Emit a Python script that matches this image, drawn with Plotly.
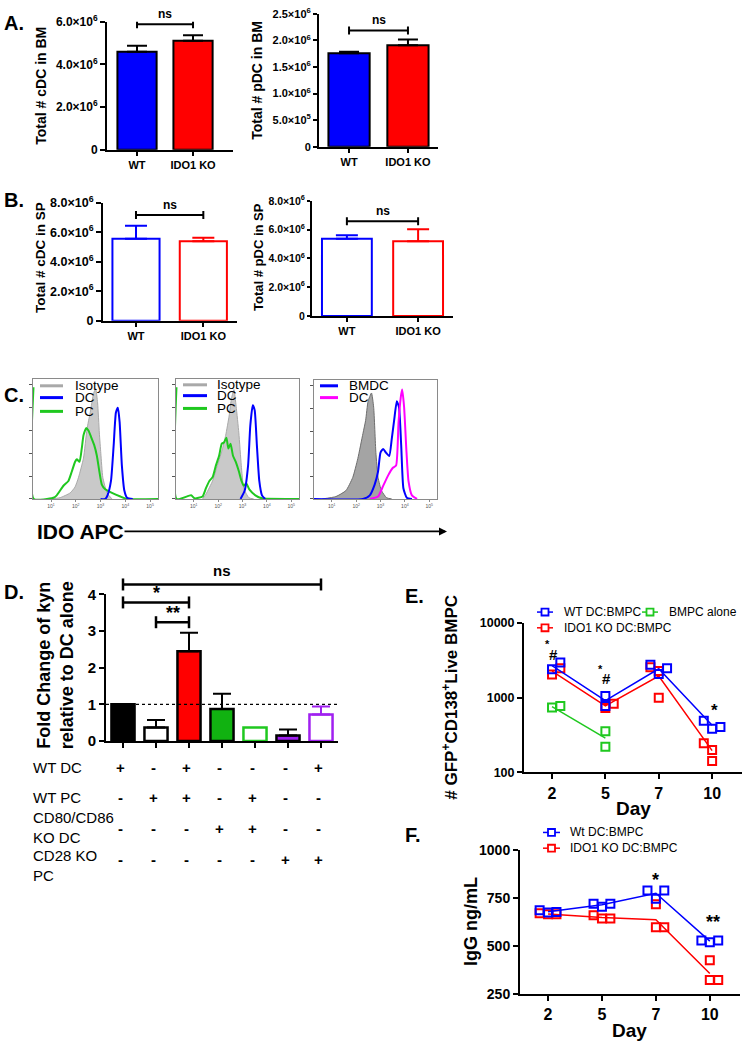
import numpy as np
import plotly.graph_objects as go

W, H = 742, 1050
FONT = "Arial, 'Liberation Sans', sans-serif"

# ---------------- DATA ----------------
# Panels A / B : totals of dendritic cells
groups = ["WT", "IDO1 KO"]
a_cdc_mean = [4.60e6, 5.11e6]
a_cdc_sem = [0.28e6, 0.26e6]
a_pdc_mean = [1.76e6, 1.91e6]
a_pdc_sem = [0.03e6, 0.11e6]
b_cdc_mean = [5.56e6, 5.40e6]
b_cdc_sem = [0.89e6, 0.23e6]
b_pdc_mean = [5.37e6, 5.19e6]
b_pdc_sem = [0.23e6, 0.84e6]
a_cdc_ticks = [0, 2e6, 4e6, 6e6]
a_pdc_ticks = [0, 5e5, 1e6, 1.5e6, 2e6, 2.5e6]
b_ticks = [0, 2e6, 4e6, 6e6, 8e6]
a_cdc_bracket = 5.88e6
a_pdc_bracket = 2.19e6
b_cdc_bracket = 7.18e6
b_pdc_bracket = 6.58e6

# Panel C : IDO APC histograms (log10 fluorescence, % of max)
c1_iso_x = [0.96, 1.36, 1.77, 1.97, 2.11, 2.31, 2.45, 2.58, 2.72, 2.80, 2.88, 2.95, 3.01, 3.09, 3.26, 3.46]
c1_iso_y = [0, 1, 5, 10, 18, 34, 58, 72, 88, 92, 80, 55, 38, 18, 5, 0]
c1_pc_x = [0.29, 0.30, 1.09, 1.23, 1.50, 1.70, 1.84, 1.97, 2.04, 2.15, 2.24, 2.31, 2.42, 2.51, 2.61, 2.74,
           2.85, 2.95, 3.05, 3.19, 3.46, 3.80, 4.07, 5.32]
c1_pc_y = [93, 0, 1, 3, 11, 15, 23, 31, 33, 31, 42, 53, 59, 57, 52, 45, 36, 23, 12, 8, 5, 2, 0, 0]
c1_dc_x = [3.00, 3.19, 3.28, 3.42, 3.53, 3.62, 3.70, 3.77, 3.86, 3.96, 4.07, 4.30]
c1_dc_y = [0, 0, 3, 15, 45, 72, 76, 64, 28, 7, 1, 0]

c2_iso_x = [1.36, 1.50, 1.77, 1.97, 2.18, 2.31, 2.45, 2.55, 2.65, 2.74, 2.85, 2.95, 3.05, 3.26, 3.46]
c2_iso_y = [0, 4, 15, 28, 42, 53, 69, 84, 91, 77, 55, 28, 9, 1, 0]
c2_pc_x = [0.29, 0.30, 0.89, 1.03, 1.36, 1.50, 1.64, 1.77, 1.91, 2.04, 2.15, 2.24, 2.34, 2.42, 2.51, 2.61,
           2.72, 2.85, 2.96, 3.05, 3.15, 3.28, 3.53, 3.80, 5.32]
c2_pc_y = [93, 0, 3, 0.5, 2, 9, 15, 18, 28, 36, 46, 47, 51, 42, 46, 36, 31, 23, 15, 11, 13, 8, 3, 0.5, 0]
c2_dc_x = [2.92, 3.09, 3.23, 3.32, 3.42, 3.50, 3.59, 3.69, 3.80, 3.93]
c2_dc_y = [0, 7, 28, 61, 78, 74, 45, 15, 3, 0]

c3_iso_x = [0.61, 1.17, 1.58, 1.86, 2.07, 2.28, 2.39, 2.49, 2.63, 2.72, 2.81, 2.90, 3.04, 3.25, 3.46]
c3_iso_y = [0, 2, 7, 18, 34, 55, 66, 82, 89, 77, 39, 18, 7, 1, 0]
c3_bmdc_x = [0.27, 2.28, 2.56, 2.76, 2.90, 3.00, 3.11, 3.22, 3.36, 3.46, 3.56, 3.67, 3.76, 3.85, 3.94, 4.08, 4.29]
c3_bmdc_y = [0, 0, 3, 12, 23, 39, 42, 39, 36, 50, 66, 82, 77, 45, 9, 1, 0]
c3_dc_x = [2.56, 2.90, 3.11, 3.32, 3.50, 3.64, 3.74, 3.83, 3.89, 3.97, 4.06, 4.15, 4.29, 4.50]
c3_dc_y = [0, 2, 11, 20, 26, 28, 64, 85, 92, 77, 42, 15, 3, 0]
c_ticks = [1, 2, 3, 4, 5]

# Panel D : kynurenine fold change
d_mean = [1.00, 0.37, 2.45, 0.87, 0.37, 0.15, 0.72]
d_err = [0, 0.20, 0.50, 0.42, 0, 0.16, 0.22]
d_ref = 1.0
d_ticks = [0, 1, 2, 3, 4]
d_compare = [(0, 6, "ns", 4.27), (0, 2, "*", 3.78), (1, 2, "**", 3.24)]
d_rows = ["WT DC", "WT PC", "CD80/CD86<br>KO DC", "CD28 KO<br>PC"]
d_signs = [["+", "-", "+", "-", "-", "-", "+"],
           ["-", "+", "+", "-", "+", "-", "-"],
           ["-", "-", "-", "+", "+", "-", "-"],
           ["-", "-", "-", "-", "-", "+", "+"]]

# Panel E : GFP+CD138+ live BMPC counts
e_days = ["2", "5", "7", "10"]
e_wt_day = [0, 0, 1, 1, 2, 2, 2, 3, 3, 3]
e_wt_rep = [0, 1, 0, 0, -1, 0, 1, -1, 0, 1]
e_wt_val = [2400, 2950, 1050, 775, 2750, 2080, 2470, 490, 385, 405]
e_ko_day = [0, 0, 1, 1, 2, 2, 2, 3, 3, 3]
e_ko_rep = [0, 1, 0, 1, -1, 0, 0, -1, 0, 0]
e_ko_val = [2040, 2480, 725, 830, 2560, 2280, 1000, 246, 200, 142]
e_bm_day = [0, 0, 1, 1]
e_bm_rep = [0, 1, 0, 0]
e_bm_val = [740, 775, 355, 220]
e_ticks = [100, 1000, 10000]
e_sig_text = ["*", "#", "*", "#", "*"]
e_sig_x = [-0.08, 0.02, 0.90, 1.03, 3.04]
e_sig_y = [5250, 3800, 2400, 1780, 675]
e_sig_size = [11, 15, 11, 15, 17]

# Panel F : IgG
f_wt_day = [0, 0, 0, 1, 1, 1, 2, 2, 2, 3, 3, 3]
f_wt_rep = [-1, 0, 1, -1, 0, 1, -1, 0, 1, -1, 0, 1]
f_wt_val = [686, 674, 677, 720, 705, 720, 789, 746, 789, 528, 519, 528]
f_ko_day = [0, 0, 0, 1, 1, 1, 2, 2, 2, 3, 3, 3]
f_ko_rep = [-1, 0, 1, -1, 0, 1, 0, 0, 1, 0, 0, 1]
f_ko_val = [670, 665, 665, 660, 643, 643, 717, 597, 597, 425, 322, 322]
f_ticks = [250, 500, 750, 1000]
f_sig_text = ["*", "**"]
f_sig_x = [2.0, 3.05]
f_sig_y = [846, 625]

# ---------------- HELPERS ----------------
BLUE, RED, GREEN, MAG, PURP = "#0000ff", "#ff0000", "#1fc81f", "#ff00ff", "#a020f0"
REP_W = 0.156


def xd(x0, x1):
    return [x0 / W, x1 / W]


def yd(top, bot):
    return [1 - bot / H, 1 - top / H]


def px(x):
    return x / W


def py(y):
    return 1 - y / H


def sci(v):
    if v == 0:
        return "0"
    e = int(np.floor(np.log10(v)))
    return f"{v / 10 ** e:.1f}×10<sup>{e}</sup>"


def bfont(size, color="black", bold=True):
    return dict(family=FONT, size=size, color=color, weight="bold" if bold else "normal")


def gp_axis(**kw):
    d = dict(showline=True, linecolor="black", linewidth=2, ticks="outside", tickwidth=2,
             ticklen=5, tickcolor="black", showgrid=False, zeroline=False,
             tickfont=bfont(11), fixedrange=True)
    d.update(kw)
    return d


fig = go.Figure()
layout = dict(width=W, height=H, margin=dict(l=0, r=0, t=0, b=0), paper_bgcolor="white",
              plot_bgcolor="rgba(0,0,0,0)", barmode="overlay", showlegend=False,
              font=dict(family=FONT, color="black"))
shapes, annotations = [], []


def ax_names(n):
    s = "" if n == 1 else str(n)
    return "x" + s, "y" + s, "xaxis" + s, "yaxis" + s


def bar_panel(n, dom_x, dom_y, means, sems, fills, outlines, errc, xr, yr, ticks, fs_y,
              bracket, capw, tlen=5):
    xn, yn, xk, yk = ax_names(n)
    for i in range(len(groups)):
        fig.add_trace(go.Bar(
            x=[i], y=[means[i]], width=0.7, xaxis=xn, yaxis=yn, showlegend=False,
            marker=dict(color=fills[i], line=dict(color=outlines[i], width=2)),
            error_y=dict(type="data", array=[sems[i]], arrayminus=[0], symmetric=False,
                         color=errc[i], thickness=2, width=capw)))
    layout[xk] = gp_axis(domain=dom_x, range=xr, anchor=yn, tickvals=[0, 1], ticktext=groups,
                         ticklen=4)
    layout[yk] = gp_axis(domain=dom_y, range=yr, anchor=xn, tickvals=ticks, ticklen=tlen,
                         ticktext=[sci(t) for t in ticks], tickfont=bfont(fs_y))
    shapes.append(dict(type="line", xref=xn, yref=yn, x0=0, x1=1, y0=bracket, y1=bracket,
                       line=dict(color="black", width=2)))
    for xe in (0, 1):
        shapes.append(dict(type="line", xref=xn, yref=yn, x0=xe, x1=xe, ysizemode="pixel",
                           yanchor=bracket, y0=-4, y1=4, line=dict(color="black", width=2)))
    annotations.append(dict(xref=xn, yref=yn, x=0.5, y=bracket, yanchor="bottom", yshift=1,
                            text="ns", showarrow=False, font=bfont(12)))


# ---------------- PANEL A ----------------
bar_panel(1, xd(107, 233), yd(13, 143), a_cdc_mean, a_cdc_sem, [BLUE, RED], ["black", "black"],
          ["black", "black"], [-0.536, 1.714], [0, 6e6], a_cdc_ticks, 12, a_cdc_bracket, 10)
bar_panel(2, xd(319, 438), yd(5, 140), a_pdc_mean, a_pdc_sem, [BLUE, RED], ["black", "black"],
          ["black", "black"], [-0.51, 1.51], [0, 2.5e6], a_pdc_ticks, 11, a_pdc_bracket, 10, 4)
# ---------------- PANEL B ----------------
bar_panel(3, xd(103, 237), yd(197, 317), b_cdc_mean, b_cdc_sem, ["white", "white"], [BLUE, RED],
          [BLUE, RED], [-0.49, 1.5], [0, 8e6], b_ticks, 12.5, b_cdc_bracket, 11)
bar_panel(4, xd(312, 453), yd(195, 312), b_pdc_mean, b_pdc_sem, ["white", "white"], [BLUE, RED],
          [BLUE, RED], [-0.49, 1.49], [0, 8e6], b_ticks, 10.5, b_pdc_bracket, 11, 3)

# ---------------- PANEL C ----------------
c_boxes = [(5, xd(33, 158), yd(376, 498)), (6, xd(176, 299), yd(376, 498)), (7, xd(314, 437), yd(377, 498))]
c_curves = {
    5: [(c1_iso_x, c1_iso_y, "#a9a9a9", "#c9c9c9"), (c1_pc_x, c1_pc_y, GREEN, None), (c1_dc_x, c1_dc_y, BLUE, None)],
    6: [(c2_iso_x, c2_iso_y, "#a9a9a9", "#c9c9c9"), (c2_pc_x, c2_pc_y, GREEN, None), (c2_dc_x, c2_dc_y, BLUE, None)],
    7: [(c3_iso_x, c3_iso_y, "#6e6e6e", "#a4a4a4"), (c3_bmdc_x, c3_bmdc_y, BLUE, None), (c3_dc_x, c3_dc_y, MAG, None)],
}
for n, dx, dy in c_boxes:
    xn, yn, xk, yk = ax_names(n)
    for xs, ys, col, fill in c_curves[n]:
        kw = dict(x=xs, y=ys, xaxis=xn, yaxis=yn, mode="lines", showlegend=False, hoverinfo="skip",
                  line=dict(color=col, width=1 if fill else 2, shape="spline", smoothing=0.5))
        if fill:
            kw.update(fill="tozeroy", fillcolor=fill)
        fig.add_trace(go.Scatter(**kw))
    layout[xk] = dict(domain=dx, range=[0.27, 5.32], anchor=yn, showline=True, mirror=True,
                      linecolor="#8a8a8a", linewidth=1, ticks="outside", ticklen=2, tickcolor="#8a8a8a",
                      tickvals=c_ticks, ticktext=[f"10<sup>{t}</sup>" for t in c_ticks],
                      tickfont=dict(family=FONT, size=5, color="#555"), showgrid=False, zeroline=False,
                      fixedrange=True)
    layout[yk] = dict(domain=dy, range=[0, 100], anchor=xn, showline=True, mirror=True,
                      linecolor="#8a8a8a", linewidth=1, ticks="outside", ticklen=3, tickcolor="#555",
                      tickvals=[0, 19, 38, 57, 76, 95], showticklabels=False, showgrid=False,
                      zeroline=False, fixedrange=True)

c_legends = [
    (40, 63, 73, [(383, "Isotype", "#a9a9a9"), (395, "DC", BLUE), (409, "PC", GREEN)]),
    (183, 207, 215, [(382, "Isotype", "#a9a9a9"), (393, "DC", BLUE), (406, "PC", GREEN)]),
    (320, 338, 347, [(383, "BMDC", BLUE), (395, "DC", MAG)]),
]
for lx0, lx1, tx, items in c_legends:
    for yy, label, col in items:
        shapes.append(dict(type="line", xref="paper", yref="paper", x0=px(lx0), x1=px(lx1),
                           y0=py(yy), y1=py(yy), line=dict(color=col, width=3)))
        annotations.append(dict(xref="paper", yref="paper", x=px(tx), y=py(yy), xanchor="left",
                                yanchor="middle", text=label, showarrow=False,
                                font=dict(family=FONT, size=13.5, color="black")))

annotations.append(dict(xref="paper", yref="paper", x=px(35), y=py(531), xanchor="left",
                        yanchor="middle", text="IDO APC", showarrow=False, font=bfont(21)))
annotations.append(dict(xref="paper", yref="paper", x=px(447), y=py(531), text="", showarrow=True,
                        axref="pixel", ayref="pixel", ax=-324, ay=0, arrowhead=2, arrowsize=1,
                        arrowwidth=1.6, arrowcolor="black"))

# ---------------- PANEL D ----------------
d_fill = ["black", "white", RED, "#11b211", "white", PURP, "white"]
d_line = ["black", "black", "black", "black", GREEN, "black", PURP]
d_errc = ["black", "black", "black", "black", "black", "black", PURP]
for i, v in enumerate(d_mean):
    fig.add_trace(go.Bar(
        x=[i], y=[v], width=0.7, xaxis="x8", yaxis="y8", showlegend=False,
        marker=dict(color=d_fill[i], line=dict(color=d_line[i], width=2.5)),
        error_y=dict(type="data", array=[d_err[i]], arrayminus=[0], symmetric=False,
                     color=d_errc[i], thickness=2, width=9, visible=d_err[i] > 0)))
D_YMAX = 4
D_DOM = yd(595, 744)
layout["xaxis8"] = gp_axis(domain=xd(106, 338), range=[-0.515, 6.515], anchor="y8",
                           tickvals=list(range(len(d_mean))), showticklabels=False, ticklen=5)
layout["yaxis8"] = gp_axis(domain=D_DOM, range=[0, D_YMAX], anchor="x8", tickvals=d_ticks,
                           tickfont=bfont(15))
shapes.append(dict(type="line", xref="x8 domain", yref="y8", x0=0, x1=1, y0=d_ref, y1=d_ref,
                   line=dict(color="black", width=1.3, dash="dot")))
for a, b, lab, lvl in d_compare:
    yf = D_DOM[0] + lvl / D_YMAX * (D_DOM[1] - D_DOM[0])
    shapes.append(dict(type="line", xref="x8", yref="paper", x0=a, x1=b, y0=yf, y1=yf,
                       line=dict(color="black", width=2.5)))
    for xe in (a, b):
        shapes.append(dict(type="line", xref="x8", yref="paper", x0=xe, x1=xe,
                           ysizemode="pixel", yanchor=yf, y0=-6, y1=6,
                           line=dict(color="black", width=2.5)))
    annotations.append(dict(xref="x8", yref="paper", x=(a + b) / 2, y=yf, yanchor="bottom",
                            yshift=3 if lab == "ns" else -3, text=lab, showarrow=False,
                            font=bfont(15 if lab == "ns" else 18)))

row_y = [771, 801, 833, 865]
label_y = [771, 801, 832, 871]
for r, lab in enumerate(d_rows):
    annotations.append(dict(xref="paper", yref="paper", x=px(31), y=py(label_y[r]), xanchor="left",
                            yanchor="middle", align="left", text=lab, showarrow=False,
                            font=dict(family=FONT, size=15, color="black")))
    for i, s in enumerate(d_signs[r]):
        annotations.append(dict(xref="x8", yref="paper", x=i, y=py(row_y[r]), xshift=-3,
                                xanchor="center", yanchor="middle", text=s, showarrow=False,
                                font=bfont(15)))


# ---------------- PANEL E / F ----------------
def group_means(days, vals, ndays):
    xs, ms = [], []
    for d in range(ndays):
        v = [vals[i] for i in range(len(vals)) if days[i] == d]
        if v:
            xs.append(d)
            ms.append(float(np.mean(v)))
    return xs, ms


def points_and_line(n, days, reps, vals, col):
    xn, yn, _, _ = ax_names(n)
    lx, ly = group_means(days, vals, 4)
    fig.add_trace(go.Scatter(x=lx, y=ly, xaxis=xn, yaxis=yn, mode="lines", showlegend=False,
                             line=dict(color=col, width=1.5), hoverinfo="skip"))
    fig.add_trace(go.Scatter(x=[d + r * REP_W for d, r in zip(days, reps)], y=vals, xaxis=xn,
                             yaxis=yn, mode="markers", showlegend=False, cliponaxis=False,
                             marker=dict(symbol="square-open", size=8, color=col,
                                         line=dict(width=2, color=col))))


points_and_line(9, e_bm_day, e_bm_rep, e_bm_val, GREEN)
points_and_line(9, e_ko_day, e_ko_rep, e_ko_val, RED)
points_and_line(9, e_wt_day, e_wt_rep, e_wt_val, BLUE)
layout["xaxis9"] = gp_axis(domain=xd(524, 742), range=[-0.525, 3.56], anchor="y9",
                           tickvals=list(range(4)), ticktext=e_days, tickfont=bfont(16))
layout["yaxis9"] = gp_axis(domain=yd(624, 776), type="log", range=[2, 4], anchor="x9",
                           tickvals=e_ticks, ticktext=[str(t) for t in e_ticks], tickfont=bfont(12.5))
for t, x, y, s in zip(e_sig_text, e_sig_x, e_sig_y, e_sig_size):
    annotations.append(dict(xref="x9", yref="y9", x=x, y=np.log10(y), text=t, showarrow=False,
                            font=bfont(s)))

points_and_line(10, f_ko_day, f_ko_rep, f_ko_val, RED)
points_and_line(10, f_wt_day, f_wt_rep, f_wt_val, BLUE)
layout["xaxis10"] = gp_axis(domain=xd(520, 740), range=[-0.52, 3.56], anchor="y10",
                            tickvals=list(range(4)), ticktext=e_days, tickfont=bfont(16))
layout["yaxis10"] = gp_axis(domain=yd(855, 1001), range=[250, 1000], anchor="x10",
                            tickvals=f_ticks, tickfont=bfont(14))
for t, x, y in zip(f_sig_text, f_sig_x, f_sig_y):
    annotations.append(dict(xref="x10", yref="y10", x=x, y=y, text=t, showarrow=False, font=bfont(18)))

# manual legends for E and F
ef_legends = [
    (537, 553, 562, 613, "WT DC:BMPC", BLUE),
    (642, 658, 667, 613, "BMPC alone", GREEN),
    (537, 553, 562, 629, "IDO1 KO DC:BMPC", RED),
    (543, 560, 568, 837, "Wt DC:BMPC", BLUE),
    (543, 560, 568, 853, "IDO1 KO DC:BMPC", RED),
]
for lx0, lx1, tx, yy, lab, col in ef_legends:
    shapes.append(dict(type="line", xref="paper", yref="paper", x0=px(lx0), x1=px(lx1), y0=py(yy),
                       y1=py(yy), line=dict(color=col, width=1.5)))
    cx = (lx0 + lx1) / 2
    shapes.append(dict(type="rect", xref="paper", yref="paper", x0=px(cx - 3.5), x1=px(cx + 3.5),
                       y0=py(yy + 3.5), y1=py(yy - 3.5), fillcolor="white",
                       line=dict(color=col, width=1.8)))
    annotations.append(dict(xref="paper", yref="paper", x=px(tx), y=py(yy), xanchor="left",
                            yanchor="middle", text=lab, showarrow=False,
                            font=dict(family=FONT, size=12, color="black")))

# ---------------- TITLES / PANEL LETTERS ----------------
titles = [
    (41, 78, "Total # cDC in BM", 14),
    (257, 73, "Total # pDC in BM", 14),
    (41, 253, "Total # cDC in SP", 13.5),
    (259, 252, "Total # pDC in SP", 13),
    (55, 667, "Fold Change of kyn<br>relative to DC alone", 18),
    (450, 700, "# GFP<sup>+</sup>CD138<sup>+</sup>Live BMPC", 17),
    (471, 928, "IgG ng/mL", 18),
]
for x, y, t, s in titles:
    annotations.append(dict(xref="paper", yref="paper", x=px(x), y=py(y), text=t, textangle=-90,
                            showarrow=False, xanchor="center", yanchor="middle", font=bfont(s)))
for x, y, t in [(633, 813, "Day"), (629, 1038, "Day")]:
    annotations.append(dict(xref="paper", yref="paper", x=px(x), y=py(y), text=t, showarrow=False,
                            xanchor="center", yanchor="middle", font=bfont(19)))
for x, y, t in [(2, 14, "A."), (2, 194, "B."), (2, 392, "C."), (2, 593, "D."), (403, 597, "E."),
                (403, 840, "F.")]:
    annotations.append(dict(xref="paper", yref="paper", x=px(x), y=py(y), xanchor="left",
                            yanchor="middle", text=t, showarrow=False, font=bfont(20)))

layout["shapes"] = shapes
layout["annotations"] = annotations
fig.update_layout(**layout)
fig.write_html("out.html", config={"displayModeBar": False, "staticPlot": True},
               post_script="document.body.style.margin='0px';document.body.style.overflow='hidden';")
